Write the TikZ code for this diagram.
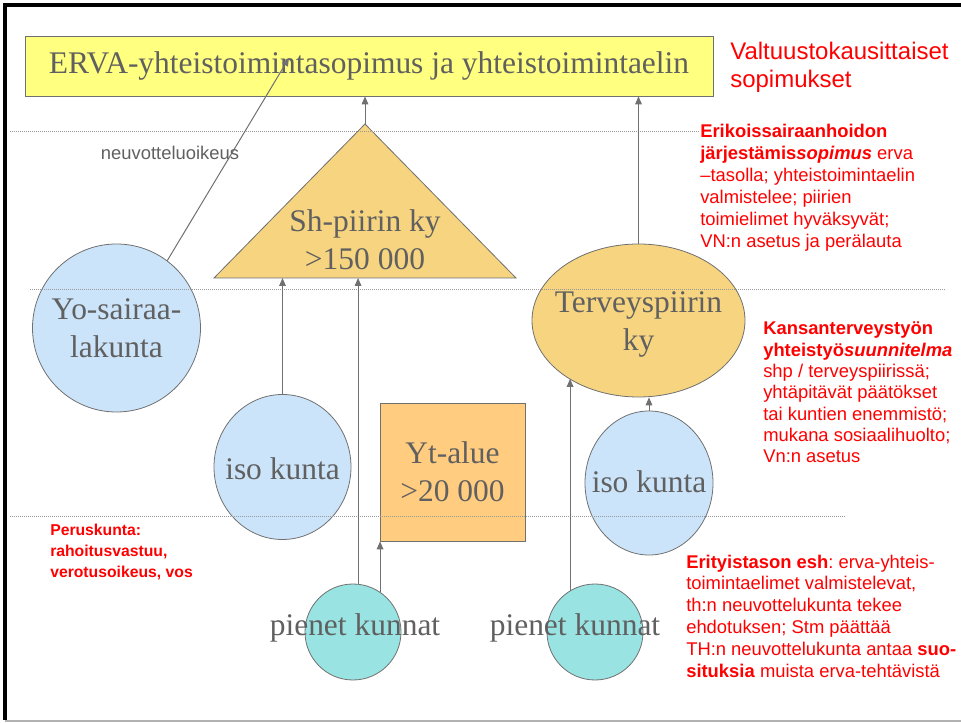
\documentclass[tikz,border=0pt]{standalone}
\usepackage{fontspec}
\setmainfont{Liberation Serif}
\setsansfont{Liberation Sans}
\usetikzlibrary{arrows.meta,shapes.geometric}
\frenchspacing

\definecolor{linegray}{HTML}{707070}
\definecolor{textgray}{HTML}{606060}
\definecolor{ervayellow}{HTML}{FFFF80}
\definecolor{shorange}{HTML}{F6D480}
\definecolor{ytorange}{HTML}{FFCC80}
\definecolor{kuntablue}{HTML}{CCE4FA}
\definecolor{pienicyan}{HTML}{99E3E3}

\begin{document}
\begin{tikzpicture}[x=0.75pt,y=-0.75pt]
        % Define the styles
        \tikzset{
          kuntaball/.style={draw=linegray,line width=0.6pt,circle,inner sep=0pt},
          kyoval/.style={draw=linegray,line width=0.6pt,ellipse,inner sep=0pt},
          bigtext/.style={font=\fontsize{23.6}{28.5}\selectfont,text=textgray,align=center},
          ervabox/.style={bigtext,draw=linegray,line width=0.6pt,rectangle,inner sep=0pt},
          redtext/.style={font=\sffamily\fontsize{13.8}{16.2}\selectfont,text=red,align=left,anchor=base west,inner sep=0pt},
          arrowline/.style={draw=linegray,line width=0.75pt,-{Triangle[length=6pt,width=5pt]}},
          dotline/.style={draw=gray!80,densely dotted,line width=0.5pt}
        }
        \useasboundingbox (0,0) rectangle (961,723);

        % Frame
        \draw[line width=3pt] (961,5) -- (5,5) -- (5,720);
        \draw[gray!60,line width=1.5pt] (5,721) -- (961,721);

        % Nodes
        \node[ervabox,fill=ervayellow,minimum width=516pt,minimum height=45pt] (erva) at (369,66) {ERVA-yhteistoimintasopimus ja yhteistoimintaelin};

        \filldraw[fill=shorange,draw=linegray,line width=0.6pt] (365,124) coordinate (shtop) -- (516,278) coordinate (shright) -- (214,278) coordinate (shleft) -- cycle;
        \node[bigtext] (sh) at (365,240) {Sh-piirin ky\\>150 000};

        \node[kuntaball,fill=kuntablue,minimum size=126pt] (yo) at (116.5,328) {};
        \node[bigtext] (yotext) at (yo) {Yo-sairaa-\\lakunta};

        \node[kyoval,fill=kuntablue,minimum width=102.75pt,minimum height=108.75pt] (isoL) at (282.5,467) {};
        \node[bigtext] (isoLtext) at (282.5,469) {iso kunta};

        \node[ervabox,fill=ytorange,minimum width=108.75pt,minimum height=103.5pt] (yt) at (452.5,472) {Yt-alue\\>20 000};

        \node[kyoval,fill=shorange,minimum width=159.75pt,minimum height=114.75pt] (terv) at (638.5,320.5) {};
        \node[bigtext] (tervtext) at (638.5,324) {Terveyspiirin\\ky};

        \node[kyoval,fill=kuntablue,minimum width=96pt,minimum height=108pt] (isoR) at (649,483) {};
        \node[bigtext] (isoRtext) at (649,482) {iso kunta};

        \node[kuntaball,fill=pienicyan,minimum size=72pt] (pk1) at (353,632) {};
        \node[bigtext] (pk1text) at (355,628) {pienet kunnat};
        \node[kuntaball,fill=pienicyan,minimum size=72pt] (pk2) at (595,632) {};
        \node[bigtext] (pk2text) at (575,628) {pienet kunnat};

        % Level lines
        \draw[dotline] (10,131) -- (700,131);
        \draw[dotline] (30,289) -- (945,289);
        \draw[dotline] (10,516) -- (845,516);

        % Edges
        \coordinate (ervahit) at (289,58);
        \draw[arrowline] (yo.53) -- (ervahit);
        \draw[arrowline] (shtop) -- (shtop |- erva.south);
        \draw[arrowline] (terv.north) -- (terv.north |- erva.south);
        \draw[arrowline] (isoL.north) -- (isoL.north |- shleft);
        \draw[arrowline] (pk1.84) -- (pk1.84 |- shleft);
        \draw[arrowline] (pk1.56) -- (pk1.56 |- yt.south);
        \draw[arrowline] (pk2.121) -- (pk2.121 |- terv.220);
        \draw[arrowline] (isoR.north) -- (isoR.north |- terv.south);

        % Texts (anchored at the baseline of the last line)
        \node[font=\sffamily\fontsize{13.8}{16}\selectfont,text=textgray,anchor=base] (neuvo) at (170,160) {neuvotteluoikeus};
        \node[redtext,font=\sffamily\fontsize{18}{21}\selectfont] (valtuusto) at (730,88) {Valtuustokausittaiset\\sopimukset};
        \node[redtext,font=\sffamily\fontsize{13.8}{16.5}\selectfont] (erikois) at (700,248) {\textbf{Erikoissairaanhoidon}\\\textbf{järjestämis\textit{sopimus}} erva\\–tasolla; yhteistoimintaelin\\valmistelee; piirien\\toimielimet hyväksyvät;\\VN:n asetus ja perälauta};
        \node[redtext,font=\sffamily\fontsize{13.8}{16}\selectfont] (kansan) at (763,463) {\textbf{Kansanterveystyön}\\\textbf{yhteistyö\textit{suunnitelma}}\\shp / terveyspiirissä;\\yhtäpitävät päätökset\\tai kuntien enemmistö;\\mukana sosiaalihuolto;\\Vn:n asetus};
        \node[redtext,font=\sffamily\fontsize{13.8}{16.35}\selectfont] (erityis) at (686,677) {\textbf{Erityistason esh}: erva-yhteis-\\toimintaelimet valmistelevat,\\th:n neuvottelukunta tekee\\ehdotuksen; Stm päättää\\TH:n neuvottelukunta antaa \textbf{suo-}\\\textbf{situksia} muista erva-tehtävistä};
        \node[redtext,font=\sffamily\bfseries\fontsize{11.8}{15.75}\selectfont] (perus) at (50,577) {Peruskunta:\\rahoitusvastuu,\\verotusoikeus, vos};
    \end{tikzpicture}
\end{document}
